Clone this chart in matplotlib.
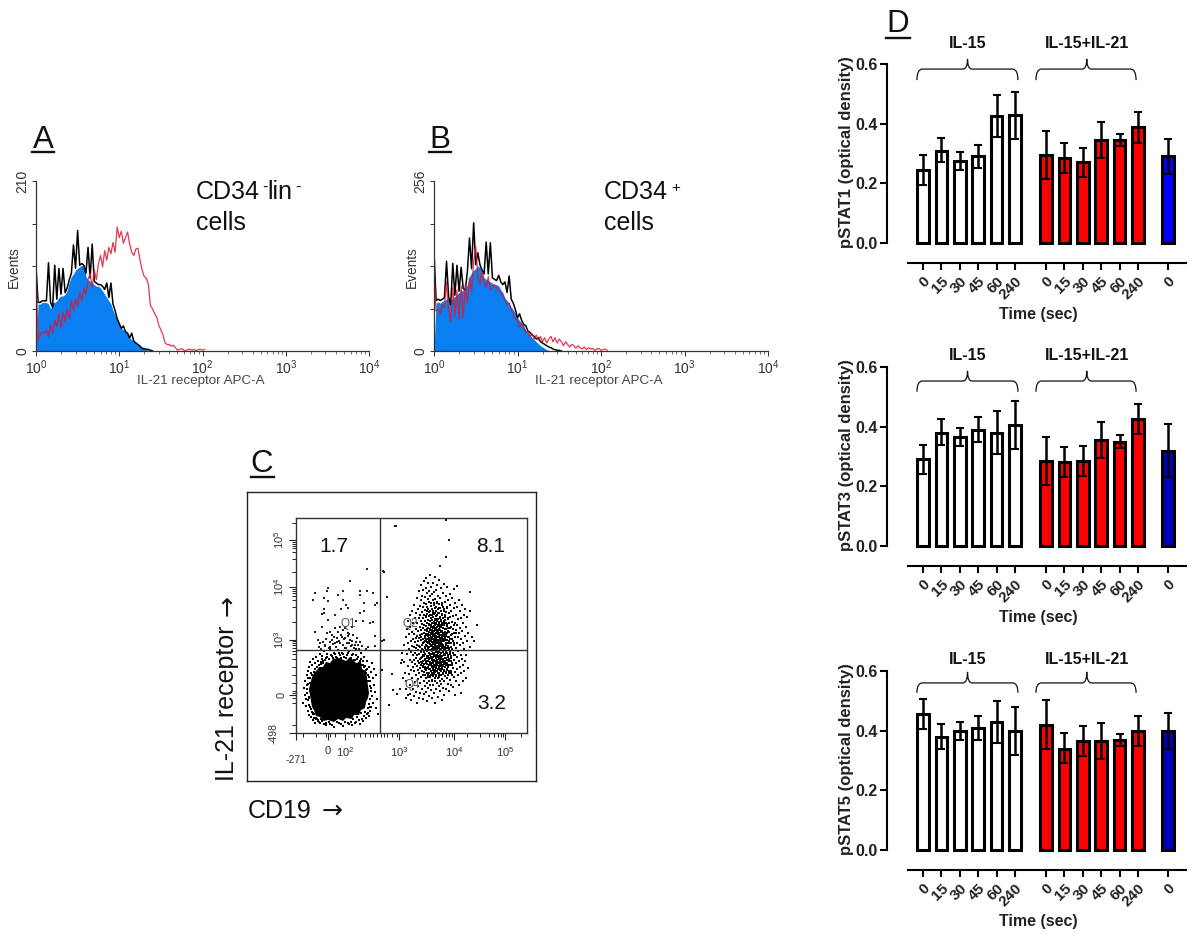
import numpy as np
import matplotlib
matplotlib.use('Agg')
import matplotlib.pyplot as plt
from matplotlib.path import Path
from matplotlib.patches import PathPatch

plt.rcParams['font.family'] = ['Liberation Sans', 'DejaVu Sans']
plt.rcParams['mathtext.fontset'] = 'custom'
plt.rcParams['mathtext.rm'] = 'Liberation Sans'

W, H = 1200, 948

# Panel A histograms, counts per 0.025 decade bin
a_black = [104, 60, 60, 62, 62, 62, 109, 60, 54, 106, 64, 102, 70, 102, 72, 78, 88, 96, 131, 102, 149, 106, 108, 106,
           96, 128, 90, 132, 86, 84, 82, 82, 80, 76, 84, 66, 84, 58, 50, 40, 34, 28, 31, 24, 22, 16, 22, 12, 10, 8, 6,
           3, 3, 2, 2, 1, 0]
a_fill = [0, 58, 58, 60, 60, 60, 58, 52, 60, 60, 62, 66, 68, 68, 70, 75, 85, 92, 95, 100, 102, 104, 106, 104, 92, 88, 86,
          84, 82, 80, 80, 78, 74, 70, 66, 62, 58, 50, 44, 38, 32, 28, 26, 24, 22, 16, 14, 12, 10, 8, 6, 5, 3, 2, 1, 1, 0]
a_red = [104, 14, 20, 24, 22, 26, 18, 32, 22, 38, 30, 46, 28, 48, 36, 52, 40, 62, 50, 64, 56, 72, 62, 78, 70, 88, 96, 78,
         100, 88, 108, 118, 104, 124, 112, 128, 120, 134, 122, 153, 140, 148, 133, 140, 147, 132, 122, 118, 126, 127,
         112, 100, 92, 90, 82, 56, 52, 46, 42, 32, 26, 20, 10, 8, 8, 6, 7, 4, 1, 2, 3, 1, 0, 2, 2, 1, 2, 0, 2, 2, 1, 2]

# Panel B histograms
b_black = [150, 76, 78, 76, 78, 80, 135, 82, 70, 132, 84, 129, 90, 126, 94, 92, 120, 170, 124, 193, 130, 148, 130, 122,
           116, 164, 116, 163, 110, 108, 106, 114, 104, 100, 104, 88, 113, 78, 72, 62, 50, 56, 46, 40, 38, 30, 28, 24,
           22, 18, 20, 14, 12, 10, 8, 6, 5, 3, 2, 1, 1, 0]
b_fill = [0, 72, 74, 72, 75, 76, 78, 80, 76, 80, 82, 85, 88, 90, 92, 94, 100, 112, 118, 122, 124, 128, 126, 118, 110, 108,
          106, 104, 102, 100, 100, 98, 92, 88, 80, 76, 72, 66, 62, 56, 50, 46, 42, 38, 32, 28, 24, 20, 17, 14, 11, 8, 6,
          4, 2, 1, 0]
b_red = [126, 60, 62, 56, 70, 66, 104, 60, 44, 96, 52, 92, 48, 98, 50, 100, 72, 110, 90, 135, 157, 110, 100, 120, 104, 96,
         112, 92, 96, 100, 94, 90, 88, 82, 76, 70, 72, 62, 56, 48, 46, 36, 42, 34, 28, 30, 22, 26, 18, 24, 16, 22, 14, 20,
         12, 18, 22, 14, 20, 12, 18, 14, 8, 14, 10, 6, 10, 8, 4, 8, 5, 3, 6, 2, 5, 3, 4, 1, 3, 4, 1, 2, 3, 1]

# Panel C, display channels
q1_x = [71, 54, 87, 100, 19, 32, 31, 17, 28, 32, 42, 47, 47, 64, 71, 77, 64, 81, 79, 68, 50, 52, 45, 64, 68, 28, 28, 26,
        39, 32, 77, 74, 67, 60, 26, 19, 31, 34, 39, 44, 49, 56, 52, 57, 79, 22, 27, 36, 41, 46, 49, 64, 61, 54, 34, 39,
        44, 51, 56, 59, 66, 72, 79, 23, 29, 34, 86,
        25, 29, 33, 37, 40, 43, 47, 50, 53, 55, 58, 62, 45, 48, 52, 42, 38, 56, 60, 30, 24, 36, 41, 47, 53, 70, 63]
q1_y = [164, 152, 162, 207, 140, 145, 142, 133, 135, 132, 138, 142, 133, 142, 142, 140, 138, 130, 128, 130, 128, 125,
        124, 120, 122, 124, 120, 119, 118, 113, 111, 110, 112, 112, 106, 101, 100, 101, 105, 106, 105, 106, 100, 98, 97,
        93, 91, 98, 95, 96, 95, 91, 95, 93, 91, 90, 90, 90, 88, 88, 87, 86, 87, 86, 87, 86, 92,
        84, 88, 85, 89, 86, 92, 88, 85, 90, 87, 85, 88, 98, 94, 97, 101, 96, 92, 91, 94, 90, 93, 91, 103, 99, 84, 84]
blob_x = [43, 50, 54, 60, 65, 66, 70, 71, 72, 73, 72, 70, 69, 65, 63, 58, 56, 50, 47, 42, 38, 32, 27, 24, 20, 18, 16, 15,
          14, 13, 15, 16, 18, 21, 23, 27, 30, 34, 37]
blob_y = [75, 72, 76, 70, 71, 64, 62, 55, 47, 40, 35, 31, 25, 23, 18, 18, 14, 15, 12, 14, 11, 13, 12, 16, 17, 23, 26, 32,
          38, 44, 52, 56, 60, 63, 66, 66, 71, 70, 74]
fringe_x = [7, 8, 9, 9, 10, 10, 11, 11, 12, 12, 12, 13, 13, 13, 14, 14, 14, 15, 15, 16, 17, 17, 18, 19, 19, 20, 21, 22, 23,
            24, 25, 26, 27, 28, 30, 31, 33, 34, 36, 38, 40, 42, 44, 46, 48, 49, 51, 53, 55, 57, 59, 60, 62, 64, 65, 67,
            68, 70, 71, 72, 73, 74, 75, 75, 76, 76, 77, 77, 78, 78, 79, 80, 80, 81, 82, 74, 72, 70, 67, 64, 60, 56, 52,
            47, 43, 38, 34, 30, 26,
            11, 12, 11, 13, 12, 14, 13, 15, 14, 16, 15, 17, 16, 18, 18, 20, 19, 21, 22, 23, 25, 24, 27, 26, 29, 31, 30,
            33, 35, 37, 39, 41, 43, 45, 47, 50, 52, 54, 56, 58, 61, 60, 63, 66, 65, 68, 67, 70, 69, 72, 71, 74, 73, 75,
            74, 73, 75, 74, 72, 71, 73, 69, 68, 66, 65, 63, 61, 59, 57, 55, 53, 49, 45, 41, 36, 33, 28, 25, 22, 20, 17]
fringe_y = [30, 45, 38, 52, 27, 34, 44, 58, 22, 49, 62, 36, 18, 66, 26, 55, 71, 16, 60, 68, 13, 74, 19, 10, 70, 76, 14, 72,
            11, 79, 69, 77, 72, 82, 75, 79, 74, 84, 77, 80, 76, 83, 78, 80, 76, 85, 78, 82, 75, 79, 73, 84, 76, 72, 80,
            68, 76, 63, 72, 58, 66, 52, 61, 45, 70, 37, 55, 30, 48, 64, 41, 25, 58, 34, 19, 26, 20, 15, 12, 9, 11, 8, 10,
            7, 10, 6, 9, 8, 12,
            40, 33, 48, 28, 55, 42, 35, 24, 50, 21, 47, 20, 58, 61, 15, 14, 64, 66, 13, 68, 71, 10, 70, 74, 73, 76, 10,
            74, 78, 75, 79, 75, 80, 75, 79, 75, 80, 74, 78, 73, 74, 78, 70, 68, 74, 66, 72, 60, 67, 52, 64, 47, 56, 42,
            34, 29, 26, 22, 25, 19, 17, 21, 17, 14, 20, 13, 16, 10, 14, 11, 9, 11, 9, 11, 8, 11, 9, 14, 12, 15, 19]
# CD19+ cluster: channel on x -> channels on y
cluster_columns = {
    104: [44], 105: [70], 106: [80, 73], 107: [55], 108: [88, 71], 109: [60], 110: [96, 52, 44, 35], 111: [79, 104],
    112: [67, 90, 112, 38], 113: [84, 59, 99], 114: [73, 48, 106, 118, 39], 115: [92, 63, 81, 33],
    116: [55, 101, 71, 122, 87], 117: [78, 94, 44, 110, 66], 118: [62, 86, 128, 37, 99, 73],
    119: [51, 91, 115, 80, 69], 120: [104, 75, 58, 120, 85, 41, 95], 121: [67, 88, 135, 30, 110, 78, 97],
    122: [54, 92, 72, 124, 83, 47, 102, 63], 123: [115, 79, 142, 60, 95, 35, 87, 70],
    124: [86, 50, 106, 127, 74, 98, 65, 118, 40], 125: [93, 68, 112, 81, 133, 56, 103, 75, 148],
    126: [76, 99, 44, 121, 88, 62, 109, 84, 70, 137], 127: [105, 58, 94, 72, 126, 34, 83, 115, 66, 143, 90],
    128: [81, 100, 52, 118, 69, 91, 39, 130, 77, 108, 61, 152], 129: [95, 74, 112, 85, 47, 136, 66, 103, 79, 123, 58, 92],
    130: [88, 107, 63, 98, 129, 72, 155, 41, 83, 116, 55, 93, 145],
    131: [69, 102, 82, 119, 50, 94, 75, 140, 60, 110, 87, 32, 126],
    132: [97, 77, 113, 56, 90, 134, 66, 105, 84, 124, 45, 99, 72, 150],
    133: [86, 60, 108, 74, 95, 131, 52, 117, 80, 101, 68, 142, 91, 37],
    134: [104, 71, 92, 122, 83, 48, 112, 64, 98, 78, 137, 89, 57, 158],
    135: [79, 96, 58, 115, 87, 70, 127, 43, 106, 93, 62, 146, 100, 75, 130],
    136: [91, 67, 110, 82, 53, 99, 124, 74, 88, 139, 60, 103, 35, 118, 95],
    137: [84, 105, 63, 94, 76, 116, 48, 89, 133, 70, 100, 57, 122, 80, 150],
    138: [98, 73, 111, 86, 59, 128, 93, 66, 107, 40, 80, 141, 102, 90, 119, 77],
    139: [88, 103, 68, 96, 52, 120, 78, 92, 134, 61, 108, 84, 30, 113, 99, 72, 156],
    140: [94, 75, 109, 85, 57, 126, 100, 65, 90, 44, 117, 81, 143, 97, 70, 104],
    141: [83, 101, 62, 92, 118, 73, 50, 106, 87, 131, 96, 68, 112, 78, 148],
    142: [90, 71, 107, 80, 55, 99, 124, 64, 93, 36, 114, 85, 137, 76, 102],
    143: [97, 60, 86, 111, 74, 47, 104, 129, 67, 92, 82, 120, 153, 56, 100],
    144: [78, 95, 64, 116, 88, 52, 103, 72, 135, 84, 42, 108, 93, 69, 125],
    145: [91, 106, 70, 83, 58, 122, 98, 75, 145, 49, 113, 87, 62, 101],
    146: [85, 68, 102, 93, 119, 54, 77, 110, 33, 130, 96, 64, 89],
    147: [100, 74, 88, 59, 115, 81, 140, 67, 105, 45, 94, 126],
    148: [79, 108, 63, 92, 124, 52, 84, 99, 71, 149, 112, 38],
    149: [95, 72, 86, 113, 57, 131, 101, 66, 78, 118], 150: [82, 104, 61, 90, 44, 121, 75, 137, 97, 68],
    151: [109, 70, 93, 55, 126, 80, 100, 146, 63], 152: [87, 66, 114, 49, 96, 76, 133, 105, 58],
    153: [74, 101, 60, 120, 85, 42, 110, 92], 154: [94, 68, 128, 53, 81, 116, 139],
    155: [77, 106, 62, 90, 122, 72, 48], 156: [99, 58, 84, 135, 70, 111], 157: [65, 92, 117, 80, 46, 104],
    158: [88, 73, 125, 56, 100, 144], 159: [96, 61, 110, 78, 38, 130], 160: [70, 103, 85, 118, 52],
    161: [90, 64, 126, 76, 108, 147], 162: [82, 58, 114, 96], 163: [72, 100, 48, 133], 164: [88, 66, 122, 105],
    165: [60, 94, 78, 40, 115], 166: [102, 74, 128], 167: [68, 90, 52, 110], 168: [84, 118, 62], 169: [97, 72, 124],
    170: [78, 55, 106], 171: [92, 116], 172: [65, 100], 174: [86, 122, 141], 176: [96], 178: [92], 181: [108],
    86: [63], 88: [161, 93], 91: [136], 93: [28], 96: [59], 97: [43], 99: [207], 101: [39], 143.5: [167], 149.5: [213, 176],
    152.5: [193],
}
# the darker core of the same cluster
cluster_core = {
    124.5: [82, 96, 71], 126.5: [90, 105, 67, 78], 128.5: [73, 86, 112, 97, 64], 129.5: [83, 70, 99, 117],
    130.5: [77, 91, 104, 65, 122], 131.5: [85, 98, 72, 113, 58], 132.5: [80, 93, 64, 109, 121, 75],
    133.5: [89, 70, 103, 56, 118, 83], 134.5: [76, 95, 62, 108, 87, 127, 68], 135.5: [84, 73, 101, 91, 113, 52, 66],
    136.5: [79, 97, 64, 106, 86, 120, 71, 58], 137.5: [92, 68, 102, 77, 110, 85, 61, 130],
    138.5: [83, 95, 72, 114, 63, 105, 89, 55, 125], 139.5: [76, 100, 87, 66, 110, 93, 58, 122, 81],
    140.5: [90, 72, 103, 82, 62, 114, 96, 68, 130, 78], 141.5: [85, 99, 70, 108, 93, 60, 120, 77],
    142.5: [96, 74, 88, 110, 66, 103, 81, 125, 58], 143.5: [83, 70, 98, 90, 115, 63, 106, 76],
    144.5: [89, 101, 67, 80, 112, 74, 95, 58], 145.5: [77, 96, 86, 65, 108, 118, 71, 128],
    146.5: [92, 72, 105, 82, 60, 98, 115], 147.5: [86, 69, 97, 78, 110, 62, 122], 148.5: [75, 93, 104, 66, 84, 116],
    149.5: [88, 70, 99, 60, 110, 80], 150.5: [93, 73, 107, 85, 64, 125], 151.5: [78, 90, 68, 102, 115],
    152.5: [84, 72, 96, 62, 110], 153.5: [90, 68, 105, 79], 154.5: [75, 98, 86, 60], 155.5: [83, 94, 68],
    157.5: [78, 90, 108], 159.5: [85, 70, 100],
}

# Panel D, optical density (white = IL-15, red = IL-15+IL-21, blue = control)
time_labels = ['0', '15', '30', '45', '60', '240', '0', '15', '30', '45', '60', '240', '0']
bar_pos = [0, 1, 2, 3, 4, 5, 6.68, 7.68, 8.68, 9.68, 10.68, 11.68, 13.3]
stat_names = ['pSTAT1', 'pSTAT3', 'pSTAT5']
stat1_val = [0.245, 0.31, 0.275, 0.29, 0.425, 0.43, 0.295, 0.285, 0.27, 0.345, 0.345, 0.39, 0.29]
stat1_hi = [0.295, 0.352, 0.305, 0.33, 0.495, 0.507, 0.375, 0.335, 0.32, 0.405, 0.365, 0.44, 0.35]
stat1_lo = [0.195, 0.27, 0.245, 0.25, 0.355, 0.35, 0.215, 0.235, 0.22, 0.285, 0.325, 0.335, 0.23]
stat3_val = [0.29, 0.38, 0.365, 0.39, 0.38, 0.405, 0.285, 0.28, 0.285, 0.355, 0.35, 0.425, 0.32]
stat3_hi = [0.34, 0.425, 0.395, 0.433, 0.453, 0.487, 0.365, 0.333, 0.335, 0.417, 0.372, 0.475, 0.41]
stat3_lo = [0.24, 0.34, 0.335, 0.35, 0.31, 0.325, 0.205, 0.23, 0.235, 0.295, 0.33, 0.375, 0.23]
stat5_val = [0.455, 0.38, 0.4, 0.41, 0.43, 0.40, 0.42, 0.34, 0.365, 0.365, 0.37, 0.40, 0.40]
stat5_hi = [0.505, 0.423, 0.43, 0.45, 0.5, 0.48, 0.503, 0.393, 0.417, 0.427, 0.39, 0.45, 0.46]
stat5_lo = [0.405, 0.34, 0.37, 0.37, 0.36, 0.32, 0.34, 0.29, 0.315, 0.305, 0.35, 0.35, 0.34]
stat_sets = [(stat1_val, stat1_hi, stat1_lo), (stat3_val, stat3_hi, stat3_lo), (stat5_val, stat5_hi, stat5_lo)]

fig = plt.figure(figsize=(W / 100, H / 100), dpi=100, facecolor='white')


def px_axes(left, top, right, bottom):
    return fig.add_axes([left / W, 1 - bottom / H, (right - left) / W, (bottom - top) / H])


def px_text(x, y, s, **kw):
    kw.setdefault('ha', 'left')
    kw.setdefault('va', 'baseline')
    return fig.text(x / W, 1 - y / H, s, **kw)


def px_line(x0, x1, y0, y1, **kw):
    fig.add_artist(plt.Line2D([x0 / W, x1 / W], [1 - y0 / H, 1 - y1 / H], **kw))


def panel_letter(s, x, y, ux0, ux1, uy):
    px_text(x, y, s, fontsize=22.5, color='#111111')
    px_line(ux0, ux1, uy, uy, color='#111111', lw=1.7)


def draw_hist(box, black, fill, red, ymax):
    ax = px_axes(*box)
    bins = lambda v: 10 ** (np.arange(len(v)) * 0.025)
    ax.fill_between(bins(fill), fill, 0, color='#0a7ff2', lw=0)
    ax.plot(bins(black), black, color='black', lw=1.1)
    ax.plot(bins(red), red, color='#e01530', lw=0.9, alpha=0.85)
    ax.set_xscale('log')
    ax.set_xlim(1, 1e4)
    ax.set_ylim(0, ymax)
    ax.spines['top'].set_visible(False)
    ax.spines['right'].set_visible(False)
    for side in ['left', 'bottom']:
        ax.spines[side].set_color('#333333')
        ax.spines[side].set_linewidth(0.9)
    ax.set_xticks([1, 10, 100, 1000, 10000])
    ax.set_xticklabels([r'$\mathregular{10^{%d}}$' % k for k in range(5)], fontsize=10, color='#333333')
    ax.tick_params(axis='x', which='major', length=3.5, width=0.7, color='#333333', pad=2)
    ax.tick_params(axis='x', which='minor', length=2, width=0.5, color='#333333')
    ax.set_yticks(np.linspace(0, ymax, 5))
    ax.set_yticklabels(['0', '', '', '', str(ymax)], rotation=90, va='center', fontsize=10, color='#333333')
    ax.tick_params(axis='y', length=3, width=0.7, color='#333333', pad=2)
    ax.patch.set_alpha(0)
    return ax


# panels A and B
draw_hist((36, 181, 369, 351), a_black, a_fill, a_red, 210)
draw_hist((434, 181, 768, 351), b_black, b_fill, b_red, 256)
for x_ev, x_lab in [(14, 201), (412, 599)]:
    px_text(x_ev, 267, 'Events', rotation=90, ha='center', va='center', fontsize=9.8, color='#333333')
    px_text(x_lab, 384, 'IL-21 receptor APC-A', ha='center', fontsize=9.6, color='#444444')

panel_letter('A', 33, 148, 32, 54, 152)
panel_letter('B', 429, 148, 429, 451, 152)
panel_letter('C', 250, 472, 251, 274, 477)
panel_letter('D', 886, 32, 886, 910, 38)

px_text(196, 199, 'CD34', fontsize=18, color='#111111')
px_text(262, 192, '-', fontsize=12, color='#111111')
px_text(267, 199, 'lin', fontsize=18, color='#111111')
px_text(295, 192, '-', fontsize=12, color='#111111')
px_text(196, 230, 'cells', fontsize=18, color='#111111')
px_text(604, 199, 'CD34', fontsize=18, color='#111111')
px_text(671, 192, '+', fontsize=11, color='#111111')
px_text(604, 230, 'cells', fontsize=18, color='#111111')

# panel C frame and dot plot
frame = px_axes(247, 492, 536, 781)
frame.set_xticks([])
frame.set_yticks([])
for s in frame.spines.values():
    s.set_linewidth(1.0)
    s.set_color('#222222')

axc = px_axes(296, 518, 527, 733)
axc.set_xlim(0, 231)
axc.set_ylim(0, 215)
axc.patch.set_alpha(0)
axc.fill(blob_x, blob_y, color='black', lw=0)
axc.scatter(fringe_x, fringe_y, s=2.0, c='black', marker='s', linewidths=0)
axc.scatter(q1_x, q1_y, s=1.0, c='#222222', marker='s', linewidths=0)
cluster_x = [k for k, v in cluster_columns.items() for _ in v]
cluster_y = [y for v in cluster_columns.values() for y in v]
axc.scatter(cluster_x, cluster_y, s=1.2, c='#111111', marker='s', linewidths=0)
core_x = [k for k, v in cluster_core.items() for _ in v]
core_y = [y for v in cluster_core.values() for y in v]
axc.scatter(core_x, core_y, s=1.6, c='black', marker='s', linewidths=0)
axc.axvline(84, color='#333333', lw=1)
axc.axhline(83, color='#333333', lw=1)

x_major = [0, 32, 49, 103, 158, 209]
y_major = [0, 38, 93, 146, 193]
x_minor = [7, 20, 39, 30, 34, 58, 64, 69, 74, 77, 81, 85, 88, 91, 96, 101, 119, 131, 139, 146, 150, 153, 156, 171, 184,
           193, 198, 202, 205, 207, 225]
y_minor = [8, 30, 35, 40, 42, 50, 58, 66, 74, 79, 82, 85, 88, 90, 92, 111, 126, 133, 137, 140, 142, 144, 161, 174, 181,
           185, 187, 189, 191, 210]
axc.set_xticks(x_major)
axc.set_xticks(x_minor, minor=True)
axc.set_yticks(y_major)
axc.set_yticks(y_minor, minor=True)
axc.set_xticklabels(['', '0', r'$\mathregular{10^{2}}$', r'$\mathregular{10^{3}}$', r'$\mathregular{10^{4}}$',
                     r'$\mathregular{10^{5}}$'], fontsize=8, color='#333333')
axc.set_yticklabels(['', '0', r'$\mathregular{10^{3}}$', r'$\mathregular{10^{4}}$', r'$\mathregular{10^{5}}$'],
                    rotation=90, va='center', fontsize=8, color='#333333')
axc.tick_params(axis='both', which='major', length=5, width=0.8, color='#222222', pad=2)
axc.tick_params(axis='x', which='major', pad=4)
axc.tick_params(axis='both', which='minor', length=3, width=0.7, color='#222222')
for s in axc.spines.values():
    s.set_color('#333333')
    s.set_linewidth(1.0)

px_text(296, 763, '-271', ha='center', va='baseline', fontsize=7.5, color='#333333')
px_text(274, 733, '-498', rotation=90, ha='center', va='center', fontsize=7.5, color='#333333')
px_text(334, 552, '1.7', ha='center', fontsize=15, color='#111111')
px_text(491, 552, '8.1', ha='center', fontsize=15, color='#111111')
px_text(492, 709, '3.2', ha='center', fontsize=15, color='#111111')
px_text(348, 627, 'Q1', ha='center', fontsize=8.5, color='#555555')
px_text(410, 627, 'Q2', ha='center', fontsize=8.5, color='#555555')
px_text(412, 688, 'Q4', ha='center', fontsize=8.5, color='#555555')
px_text(234, 781, 'IL-21 receptor', rotation=90, ha='left', va='baseline', rotation_mode='anchor', fontsize=18,
        color='#111111')
px_text(234, 616, '\u2192', rotation=90, ha='left', va='baseline', rotation_mode='anchor', fontsize=18,
        family='DejaVu Sans', color='#111111')
px_text(248, 818, 'CD19', fontsize=18, color='#111111')
px_text(322, 818, '\u2192', fontsize=18, family='DejaVu Sans', color='#111111')


def draw_brace(ax, x0, xm, x1, y_end, y_flat, y_cusp):
    verts = [(x0, y_end), (x0, y_flat), (x0 + 0.3, y_flat), (xm - 0.25, y_flat), (xm, y_flat), (xm, y_cusp),
             (xm, y_flat), (xm + 0.25, y_flat), (x1 - 0.3, y_flat), (x1, y_flat), (x1, y_end)]
    codes = [Path.MOVETO, Path.CURVE3, Path.CURVE3, Path.LINETO, Path.CURVE3, Path.CURVE3, Path.CURVE3, Path.CURVE3,
             Path.LINETO, Path.CURVE3, Path.CURVE3]
    ax.add_patch(PathPatch(Path(verts, codes), fill=False, lw=0.9, color='#111111', clip_on=False))


# panel D bars
d_zero_px = [243, 546, 850]
d_brace = [(0.546, 0.583, 0.617, 0.67), (0.517, 0.553, 0.587, 0.637), (0.527, 0.56, 0.597, 0.637)]
d_blue = ['#0000ff', '#0000c0', '#0000c0']
bar_colors = ['white'] * 6 + ['#ff0000'] * 6
px_per_pos = 18.4
for k, name in enumerate(stat_names):
    vals, his, los = stat_sets[k]
    zero = d_zero_px[k]
    ax = px_axes(887, zero - 179, 1186, zero)
    ax.set_xlim(-36 / px_per_pos, (1186 - 923) / px_per_pos)
    ax.set_ylim(0, 0.6)
    ax.patch.set_alpha(0)
    colors = bar_colors + [d_blue[k]]
    ax.bar(bar_pos, vals, width=0.63, color=colors, edgecolor='black', linewidth=2.2, clip_on=False, zorder=2)
    yerr = [np.array(vals) - np.array(los), np.array(his) - np.array(vals)]
    ax.errorbar(bar_pos, vals, yerr=yerr, fmt='none', ecolor='black', elinewidth=1.8, capsize=3, capthick=1.5,
                clip_on=False, zorder=3)
    ax.spines['top'].set_visible(False)
    ax.spines['right'].set_visible(False)
    ax.spines['left'].set_linewidth(1.5)
    ax.spines['bottom'].set_linewidth(1.5)
    ax.spines['bottom'].set_position(('outward', 20 * 0.72))
    ax.spines['bottom'].set_bounds(-15 / px_per_pos, (1186 - 923) / px_per_pos)
    ax.set_yticks([0, 0.2, 0.4, 0.6])
    ax.set_yticklabels(['0.0', '0.2', '0.4', '0.6'], fontsize=11.5, fontweight='bold', color='#222222')
    ax.set_xticks(bar_pos)
    ax.set_xticklabels(time_labels, rotation=45, ha='right', rotation_mode='anchor', fontsize=11, fontweight='bold',
                       color='#222222')
    ax.tick_params(axis='both', length=5, width=1.5, pad=2)
    ax.tick_params(axis='x', pad=3)

    y_end, y_flat, y_cusp, y_txt = d_brace[k]
    draw_brace(ax, -0.33, 2.42, 5.16, y_end, y_flat, y_cusp)
    draw_brace(ax, 6.14, 8.9, 11.58, y_end, y_flat, y_cusp)
    ax.text(2.42, y_txt, 'IL-15', ha='center', va='center', fontsize=11.5, fontweight='bold', color='#111111')
    ax.text(8.9, y_txt, 'IL-15+IL-21', ha='center', va='center', fontsize=11.5, fontweight='bold', color='#111111')

    px_text(846, zero - 91, name + ' (optical density)', rotation=90, ha='center', va='center', fontsize=12,
            fontweight='bold', color='#222222')
    px_text(1038, zero + 76, 'Time (sec)', ha='center', fontsize=11.5, fontweight='bold', color='#222222')

plt.savefig('out.png', dpi=100)
